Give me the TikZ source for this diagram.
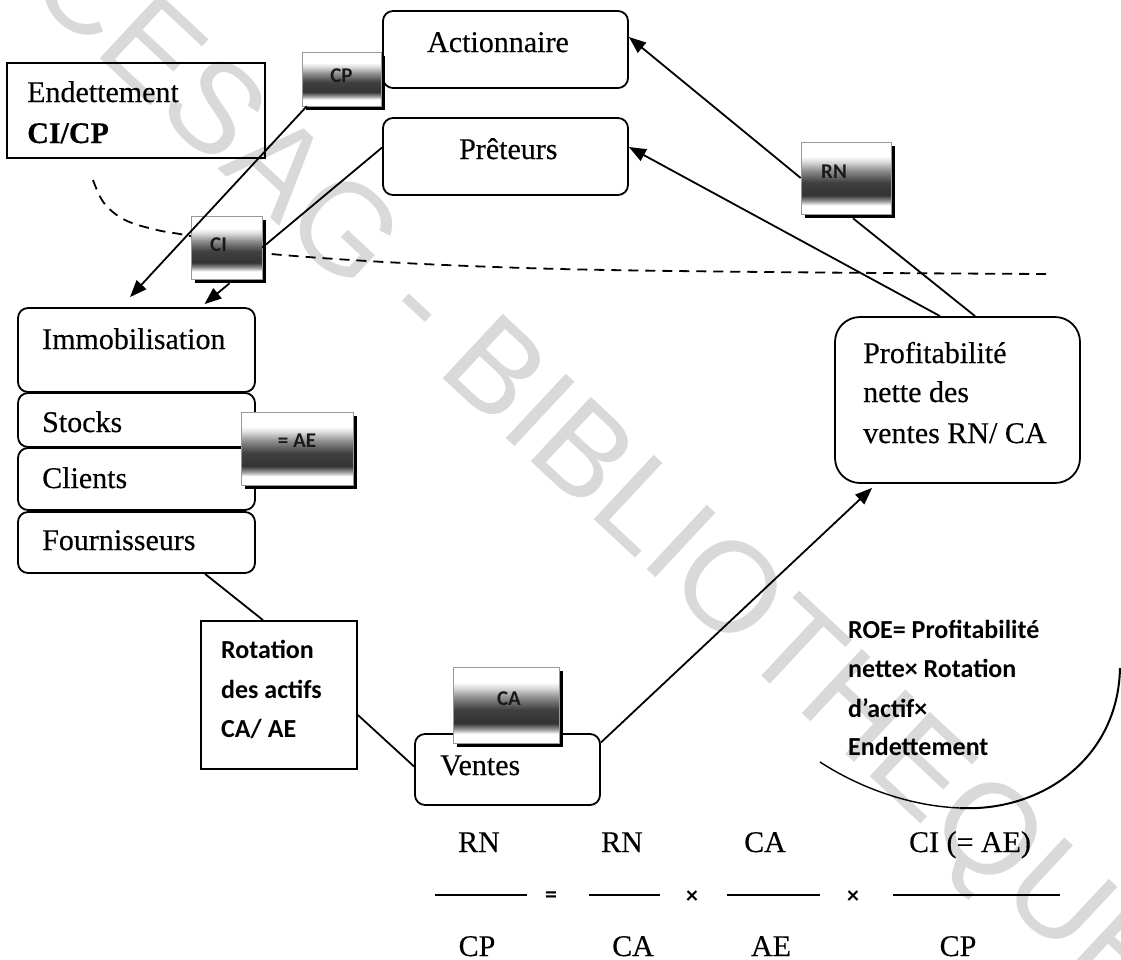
\documentclass[tikz,border=0pt]{standalone}
\usepackage{fontspec}
\setmainfont{Liberation Serif}[FakeBold=0.35]
\newfontfamily\calib{Carlito}
\newfontfamily\wmfont{Liberation Sans}
\usetikzlibrary{arrows.meta,shadows,calc}

% grey band used behind the short ratio tags: only 25bp-75bp is visible, and the
% picture's y axis points down, so the stops run from the top edge of the tag
\pgfdeclareverticalshading{scanband}{100bp}{color(0bp)=(white); color(31bp)=(white); color(34bp)=(black!40); color(38bp)=(black!80); color(47bp)=(black!75); color(55bp)=(black!45); color(61bp)=(black!15); color(65bp)=(white); color(100bp)=(white)}

\begin{document}
\begin{tikzpicture}[x=1pt,y=-1pt,
  font=\fontsize{30}{36}\selectfont,
  rbox/.style={draw, line width=1.8pt, rounded corners=10pt, inner sep=0pt},
  sbox/.style={draw, line width=1.8pt, inner sep=0pt},
  tag/.style={shading=scanband, draw=black!40, line width=0.6pt, inner sep=0pt,
    drop shadow={shadow xshift=4pt, shadow yshift=-4pt, fill=black, opacity=1}},
  tagtxt/.style={font=\calib\bfseries\fontsize{21}{21}\selectfont, text=black!90, inner sep=0pt},
  txt/.style={anchor=base west, inner sep=0pt},
  side/.style={anchor=base west, inner sep=0pt, font=\calib\bfseries\fontsize{26}{30}\selectfont},
  frac/.style={anchor=base, inner sep=0pt},
  op/.style={inner sep=0pt, font=\calib\bfseries\fontsize{24}{24}\selectfont},
  link/.style={line width=1.8pt},
  arr/.style={link, -{Triangle[length=17pt,width=13pt]}},
  bar/.style={line width=2.4pt}]

\useasboundingbox (0,0) rectangle (1121,959);

% background watermark
\node[anchor=base, rotate=-43, inner sep=0pt, text=black!15,
  font=\wmfont\fontsize{128}{128}\selectfont] (wmark) at (576,503) {CESAG - BIBLIOTHEQUE};

% dashed separation line
\draw[line width=1.8pt, dash pattern=on 10pt off 7pt]
  plot[smooth, tension=0.6] coordinates {(93,180) (104,203) (125,220) (157,230) (190,236) (271,254) (560,269) (1046,274)};

% boxes
\node[rbox, minimum width=245pt, minimum height=77pt] (act) at (505.5,49.5) {};
\node[rbox, minimum width=245pt, minimum height=77pt] (pret) at (505.5,156.5) {};
\node[sbox, minimum width=258pt, minimum height=95pt] (endet) at (136,110.5) {};
\node[rbox, minimum width=237pt, minimum height=84pt] (immo) at (136.5,350) {};
\node[rbox, minimum width=237pt, minimum height=54pt] (stocks) at (136.5,420) {};
\node[rbox, minimum width=237pt, minimum height=62pt] (clients) at (136.5,479) {};
\node[rbox, minimum width=237pt, minimum height=61pt] (fourn) at (136.5,542.5) {};
\node[sbox, minimum width=156pt, minimum height=148pt] (rota) at (279,695) {};
\node[rbox, minimum width=185pt, minimum height=71pt] (ventes) at (507.5,769.5) {};
\node[draw, line width=1.8pt, rounded corners=25pt, inner sep=0pt,
  minimum width=245pt, minimum height=166pt] (profit) at (957.5,400) {};

% box texts
\node[txt] (tact) at (427,52) {Actionnaire};
\node[txt] (tpret) at (459,159) {Prêteurs};
\node[txt] (tend1) at (27,102) {Endettement};
\node[txt, font=\fontsize{30}{36}\selectfont\bfseries] (tend2) at (27,143) {CI/CP};
\node[txt] (timmo) at (42,349) {Immobilisation};
\node[txt] (tstocks) at (42,432) {Stocks};
\node[txt] (tclients) at (42,488) {Clients};
\node[txt] (tfourn) at (42,550) {Fournisseurs};
\node[side] (trot1) at (221,658) {Rotation};
\node[side] (trot2) at (221,698) {des actifs};
\node[side] (trot3) at (221,737) {CA/ AE};
\node[txt] (tventes) at (440,775) {Ventes};
\node[txt] (tpro1) at (863,363) {Profitabilité};
\node[txt] (tpro2) at (863,402) {nette des};
\node[txt] (tpro3) at (863,443) {ventes RN/ CA};

% ratio tags
\node[tag, minimum width=79pt, minimum height=54pt] (lCP) at (341.5,79) {};
\node[tag, minimum width=71pt, minimum height=63pt] (lCI) at (226.5,247.5) {};
\node[tag, minimum width=90pt, minimum height=72pt] (lRN) at (846,178) {};
\node[tag, minimum width=112pt, minimum height=73pt] (lAE) at (297,448.5) {};
\node[tag, minimum width=106pt, minimum height=76pt] (lCA) at (506,705) {};
\node[tagtxt] (tCP) at ($(lCP.center)+(0,-3)$) {CP};
\node[tagtxt] (tCI) at ($(lCI.center)+(-8,-3)$) {CI};
\node[tagtxt] (tRN) at ($(lRN.center)+(-12,-6)$) {RN};
\node[tagtxt] (tAE) at ($(lAE.center)+(0,-8)$) {= AE};
\node[tagtxt] (tCA) at ($(lCA.center)+(3,-6)$) {CA};

% connectors
\draw[arr] (lRN.west) -- ($(act.east)+(0,-12.5)$);
\draw[link] ($(profit.north)+(17.5,0)$) -- ($(lRN.south)+(7,4)$);
\draw[arr] ($(profit.north)+(-17.5,0)$) -- ($(pret.east)+(0,-9.5)$);
\draw[arr] ($(lCP.south west)+(5,0)$) -- ($(immo.north)+(-6.5,-10)$);
\draw[link] ($(pret.west)+(0,-9)$) -- (lCI.east);
\draw[arr] ($(lCI.south)+(3,4)$) -- ($(immo.north)+(68,-3)$);
\draw[link] ($(fourn.south)+(68.5,0)$) -- ($(rota.north)+(-16,0)$);
\draw[link] ($(rota.east)+(0,20)$) -- ($(ventes.west)+(0,-3)$);
\draw[arr] ($(ventes.east)+(0,-27)$) -- ($(profit.south west)+(38,4)$);

% closing note with its arc
\node[side] (roe1) at (848,638) {ROE= Profitabilité};
\node[side] (roe2) at (848,677) {nette× Rotation};
\node[side] (roe3) at (848,717) {d’actif×};
\node[side] (roe4) at (848,755) {Endettement};
\draw[line width=2pt] (1120,668) .. controls (1118,760) and (1040,812) .. (960,808);
\draw[line width=1.4pt] (960,808) .. controls (910,806) and (860,788) .. (820,762);

% ratio decomposition
\node[frac] (n1) at (479,852) {RN};
\node[frac] (n2) at (622,852) {RN};
\node[frac] (n3) at (765,852) {CA};
\node[frac] (n4) at (970,852) {CI (= AE)};
\node[frac] (d1) at (477,956) {CP};
\node[frac] (d2) at (633,956) {CA};
\node[frac] (d3) at (771,956) {AE};
\node[frac] (d4) at (958,956) {CP};
\draw[bar] (435,895) -- (527,895);
\draw[bar] (589,895) -- (660,895);
\draw[bar] (727,895) -- (820,895);
\draw[bar] (893,895) -- (1060,895);
\node[op] (eq) at (551,897) {=};
\node[op] (x1) at (692,897) {×};
\node[op] (x2) at (853,897) {×};
\end{tikzpicture}
\end{document}
